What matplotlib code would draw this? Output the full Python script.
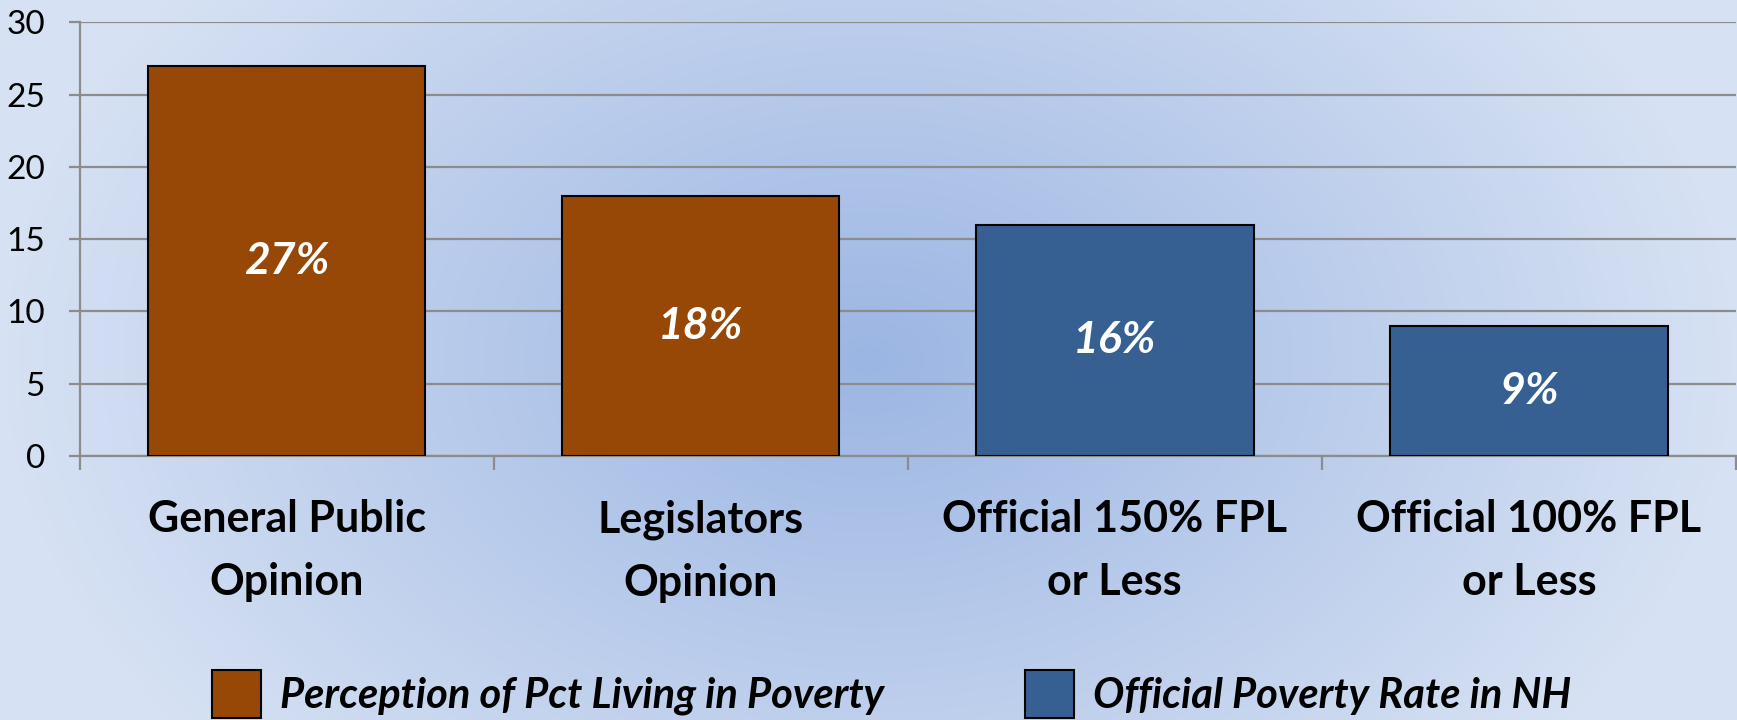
import numpy as np
import matplotlib.pyplot as plt
from matplotlib.colors import LinearSegmentedColormap
from matplotlib.patches import Patch

categories = ['General Public\nOpinion', 'Legislators\nOpinion',
              'Official 150% FPL\nor Less', 'Official 100% FPL\nor Less']
values = [27, 18, 16, 9]
series = ['Perception of Pct Living in Poverty', 'Perception of Pct Living in Poverty',
          'Official Poverty Rate in NH', 'Official Poverty Rate in NH']
series_names = ['Perception of Pct Living in Poverty', 'Official Poverty Rate in NH']
series_colors = {'Perception of Pct Living in Poverty': '#974806',
                 'Official Poverty Rate in NH': '#366092'}
yticks = [0, 5, 10, 15, 20, 25, 30]

plt.rcParams['font.family'] = ['Lato', 'DejaVu Sans']

fig = plt.figure(figsize=(17.37, 7.2), dpi=100)

# soft blue background, darker toward the middle
bg = fig.add_axes([0, 0, 1, 1], zorder=-10)
xx, yy = np.meshgrid(np.linspace(-1, 1, 400), np.linspace(-1, 1, 200))
r = np.clip(np.sqrt(xx ** 2 + 0.35 * yy ** 2), 0, 1)
cmap = LinearSegmentedColormap.from_list('bgblue', ['#9cb6e3', '#d6e1f3'])
bg.imshow(r, cmap=cmap, aspect='auto', extent=[0, 1, 0, 1], interpolation='bicubic')
bg.axis('off')

ax = fig.add_axes([0.0458, 0.3667, 0.9536, 0.6024])
ax.set_facecolor('none')

x = np.arange(len(categories))
colors = [series_colors[s] for s in series]
bars = ax.bar(x, values, width=0.67, color=colors, edgecolor='black', linewidth=1.5, zorder=3)

for xi, v in zip(x, values):
    ax.text(xi, v / 2, f'{v}%', ha='center', va='center', color='white',
            fontsize=32, fontweight='bold', style='italic', zorder=4)

ax.set_xlim(-0.5, len(categories) - 0.5)
ax.set_ylim(0, 30)
ax.set_yticks(yticks)
ax.grid(axis='y', color='#8c8c8c', linewidth=1.6, zorder=0)
ax.set_axisbelow(True)

ax.set_xticks(x)
ax.set_xticklabels(categories, fontsize=31, fontweight='bold', linespacing=1.7)
ax.set_xticks(np.arange(-0.5, len(categories)), minor=True)
ax.tick_params(axis='x', which='major', length=0, pad=31)
ax.tick_params(axis='x', which='minor', length=10, width=1.6, color='#8c8c8c')
ax.tick_params(axis='y', length=8, width=1.6, color='#8c8c8c', labelsize=24, pad=17)

for side in ['top', 'right']:
    ax.spines[side].set_visible(False)
for side in ['left', 'bottom']:
    ax.spines[side].set_color('#8c8c8c')
    ax.spines[side].set_linewidth(1.6)

handles = [Patch(facecolor=series_colors[s], edgecolor='black', linewidth=1.5) for s in series_names]
fig.legend(handles, series_names, loc='upper left', bbox_to_anchor=(212 / 1737, 1 - 670 / 720),
           ncol=2, frameon=False, borderpad=0, borderaxespad=0,
           handlelength=1.17, handleheight=1.4, handletextpad=0.45, columnspacing=3.4,
           prop={'size': 30, 'weight': 'bold', 'style': 'italic'})

fig.savefig('out.png', dpi=100)
